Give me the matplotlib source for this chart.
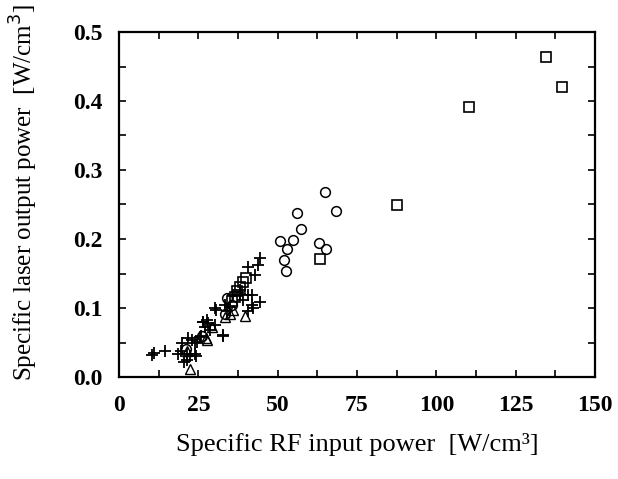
import matplotlib
matplotlib.use("Agg")
import matplotlib.pyplot as plt
from matplotlib.ticker import MultipleLocator, FixedLocator, FixedFormatter

# ---- data ----
cross_x = [10.3, 11.0, 14.5, 18.7, 19.4, 19.8, 20.5, 21.3, 21.3, 21.8, 22.4, 22.9,
           24.0, 24.0, 24.3, 24.5, 25.5, 25.7, 26.4, 26.6, 27.1, 27.8, 28.1, 28.7,
           30.3, 30.3, 30.6, 32.7, 32.9, 33.4, 33.9, 35.0, 36.0, 38.1, 38.1, 39.2,
           40.6, 40.8, 40.8, 41.8, 41.8, 42.3, 42.9, 43.9, 44.4, 44.4]
cross_y = [0.032, 0.035, 0.038, 0.034, 0.037, 0.049, 0.022, 0.034, 0.025, 0.056, 0.030, 0.054,
           0.049, 0.034, 0.030, 0.051, 0.058, 0.059, 0.080, 0.080, 0.073, 0.083, 0.078, 0.068,
           0.100, 0.075, 0.097, 0.060, 0.061, 0.104, 0.095, 0.101, 0.119, 0.121, 0.126, 0.112,
           0.096, 0.119, 0.160, 0.104, 0.119, 0.100, 0.148, 0.162, 0.172, 0.109]

circle_x = [64.8, 56.1, 68.5, 57.4, 50.7, 54.9, 52.9, 62.9, 65.2, 52.1, 52.6,
            33.9, 33.4, 35.5, 26.0, 21.0]
circle_y = [0.268, 0.238, 0.241, 0.214, 0.197, 0.199, 0.186, 0.194, 0.186, 0.169, 0.153,
            0.114, 0.091, 0.105, 0.060, 0.040]

square_x = [134.5, 139.7, 110.3, 87.6, 63.3, 36.6, 37.1, 38.1, 39.2, 40.0, 35.5]
square_y = [0.464, 0.420, 0.391, 0.250, 0.171, 0.116, 0.124, 0.131, 0.138, 0.143, 0.110]

tri_x = [22.4, 21.5, 27.6, 29.2, 33.4, 39.7, 36.0, 27.3, 35.0]
tri_y = [0.011, 0.037, 0.054, 0.072, 0.087, 0.088, 0.097, 0.056, 0.092]

x_ticks = [0, 25, 50, 75, 100, 125, 150]
y_ticks = [0.0, 0.1, 0.2, 0.3, 0.4, 0.5]
x_labels = ["0", "25", "50", "75", "100", "125", "150"]
y_labels = ["0.0", "0.1", "0.2", "0.3", "0.4", "0.5"]

plt.rcParams['font.family'] = ['Liberation Serif', 'DejaVu Serif']

fig = plt.figure(figsize=(6.18, 4.79), dpi=100)
ax = fig.add_axes([119/618, 1 - 377/479, (595-119)/618, (377-32)/479])

ms = 7
ax.plot(cross_x, cross_y, linestyle='none', marker='+', ms=9, mew=1.3, color='black')
ax.plot(circle_x, circle_y, linestyle='none', marker='o', ms=ms, mew=1.1,
        mfc='none', mec='black')
ax.plot(square_x, square_y, linestyle='none', marker='s', ms=6.5, mew=1.2,
        mfc='none', mec='black')
ax.plot(tri_x, tri_y, linestyle='none', marker='^', ms=ms, mew=1.0,
        mfc='none', mec='black')

ax.set_xlim(0, 150)
ax.set_ylim(0, 0.5)
ax.xaxis.set_major_locator(FixedLocator(x_ticks))
ax.xaxis.set_major_formatter(FixedFormatter(x_labels))
ax.yaxis.set_major_locator(FixedLocator(y_ticks))
ax.yaxis.set_major_formatter(FixedFormatter(y_labels))
ax.xaxis.set_minor_locator(MultipleLocator(12.5))
ax.yaxis.set_minor_locator(MultipleLocator(0.05))

for s in ax.spines.values():
    s.set_linewidth(1.6)
ax.tick_params(which='both', direction='in', top=True, right=True,
               length=5, width=1.2, labelsize=17)
ax.tick_params(axis='x', which='major', pad=13)
ax.tick_params(axis='y', which='major', pad=12)
for lab in ax.get_xticklabels() + ax.get_yticklabels():
    lab.set_fontweight('bold')

ax.set_xlabel("Specific RF input power  [W/cm³]", fontsize=19, labelpad=12)
ax.set_ylabel("Specific laser output power  [W/cm$^3$]", fontsize=18)
ax.yaxis.set_label_coords(-0.165, 0.535)

fig.savefig("out.png", dpi=100)
